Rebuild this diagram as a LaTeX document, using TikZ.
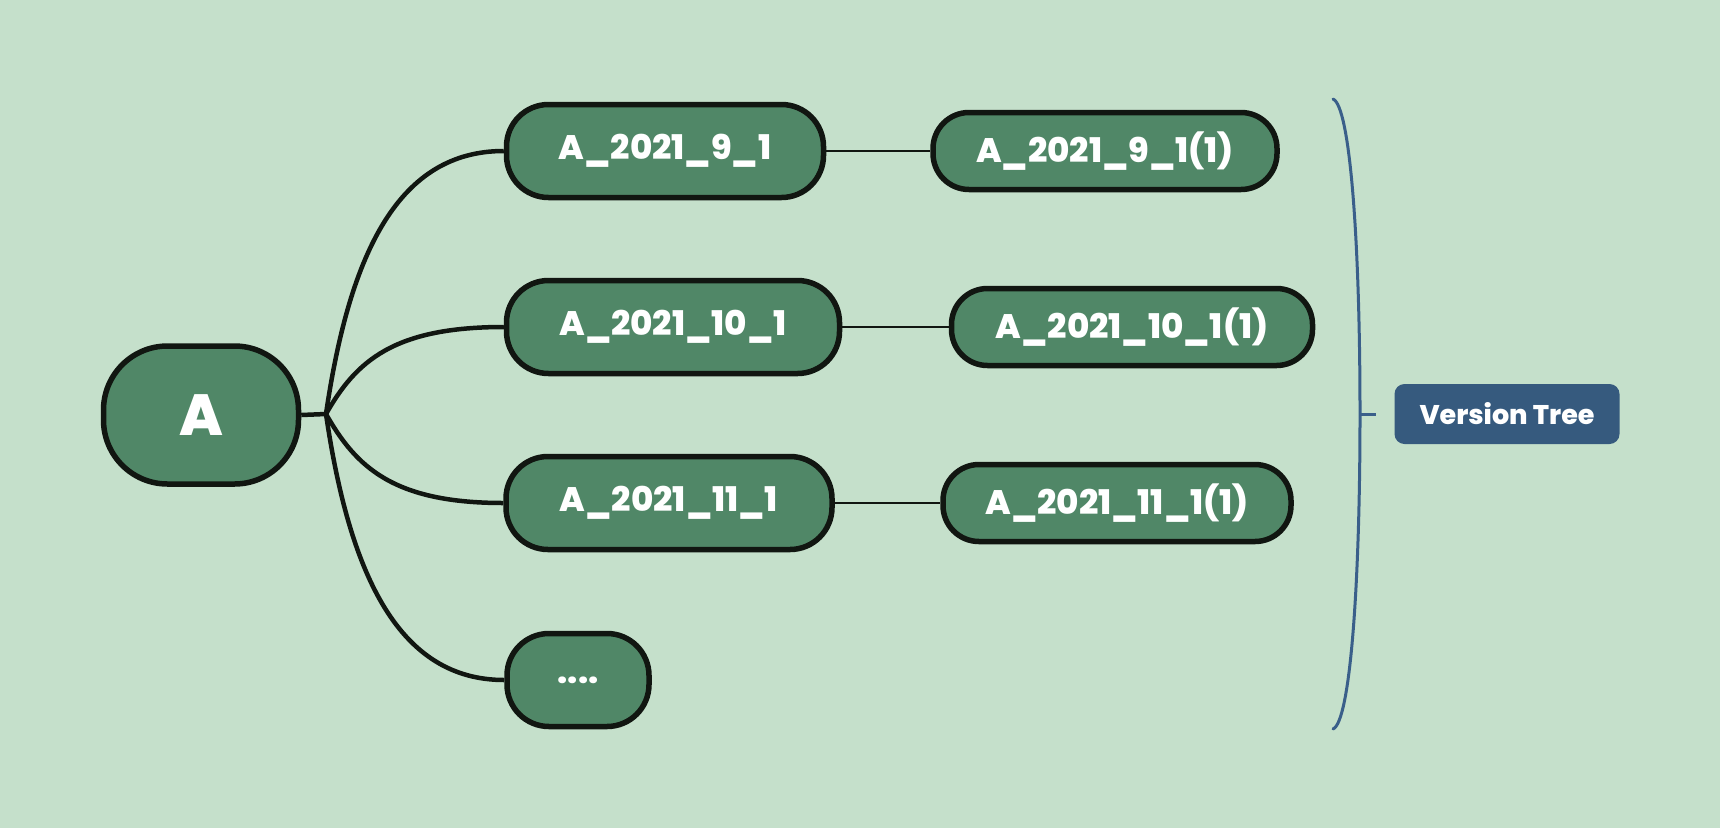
\documentclass[tikz,border=0pt]{standalone}
\usepackage{fontspec}
\setmainfont{Poppins}[BoldFont={Poppins ExtraBold}]
\usetikzlibrary{positioning}
\definecolor{bggreen}{HTML}{C5E0CB}
\definecolor{nodegreen}{HTML}{508767}
\definecolor{edgeblack}{HTML}{111611}
\definecolor{tagblue}{HTML}{365A7E}
\definecolor{braceblue}{HTML}{3A5F8A}

\begin{document}
\begin{tikzpicture}[x=1pt,y=-1pt,line join=round]
  \tikzstyle{every node}=[text=white,inner sep=0pt]
  \tikzstyle{base}=[draw=edgeblack,fill=nodegreen,line width=5.5pt]
  \tikzstyle{root}=[base,minimum width=195pt,minimum height=138pt,
    rounded corners=64pt,font=\fontsize{58}{60}\selectfont\bfseries]
  \tikzstyle{branch}=[base,minimum height=93pt,rounded corners=42pt,
    font=\fontsize{34}{36}\selectfont\bfseries]
  \tikzstyle{leaf}=[base,minimum height=77pt,rounded corners=36pt,
    font=\fontsize{34}{36}\selectfont\bfseries]
  \tikzstyle{tag}=[fill=tagblue,minimum width=225pt,minimum height=60pt,
    rounded corners=10pt,font=\fontsize{27}{29}\selectfont\bfseries]
  \tikzstyle{link}=[draw=edgeblack,line width=4.5pt]
  \tikzstyle{thinlink}=[draw=edgeblack,line width=2.5pt]

  \useasboundingbox (0,0) rectangle (1720,828);
  \fill[bggreen] (0,0) rectangle (1720,828);

  \node[root]                        (A)   at (201,415)  {A};
  \node[branch,minimum width=317pt]  (V9)  at (665,151)  {A\_2021\_9\_1};
  \node[branch,minimum width=333pt]  (V10) at (673,327)  {A\_2021\_10\_1};
  \node[branch,minimum width=326pt]  (V11) at (669,503)  {A\_2021\_11\_1};
  \node[branch,minimum width=142pt]  (VN)  at (578,680)  {....};
  \node[leaf,minimum width=344pt]    (C9)  at (1105,151) {A\_2021\_9\_1(1)};
  \node[leaf,minimum width=361pt]    (C10) at (1132,327) {A\_2021\_10\_1(1)};
  \node[leaf,minimum width=348pt]    (C11) at (1117,503) {A\_2021\_11\_1(1)};
  \node[tag]                         (T)   at (1507,414) {Version Tree};

  \coordinate (J)  at (326,414);
  \coordinate (BT) at (1333,99);
  \coordinate (BM) at (1360,414);
  \coordinate (BB) at (1333,729);
  \coordinate (BK) at (1376,414);

  % root to versions
  \draw[link] (A.east) -- (J);
  \draw[link] (J) .. controls +(24,-164) and +(-104,0) .. (V9.west);
  \draw[link] (J) .. controls +(30,-53) and +(-110,0) .. (V10.west);
  \draw[link] (J) .. controls +(30,53) and +(-110,0) .. (V11.west);
  \draw[link] (J) .. controls +(24,164) and +(-104,0) .. (VN.west);

  % versions to copies
  \draw[thinlink] (V9.east) -- (C9.west);
  \draw[thinlink] (V10.east) -- (C10.west);
  \draw[thinlink] (V11.east) -- (C11.west);

  % bracket
  \draw[braceblue,line width=3pt,line cap=round]
    (BT) .. controls (1350,106) and (1360,240) .. (BM)
    .. controls (1360,588) and (1350,722) .. (BB);
  \draw[braceblue,line width=3pt] (BM) -- (BK);
\end{tikzpicture}
\end{document}
